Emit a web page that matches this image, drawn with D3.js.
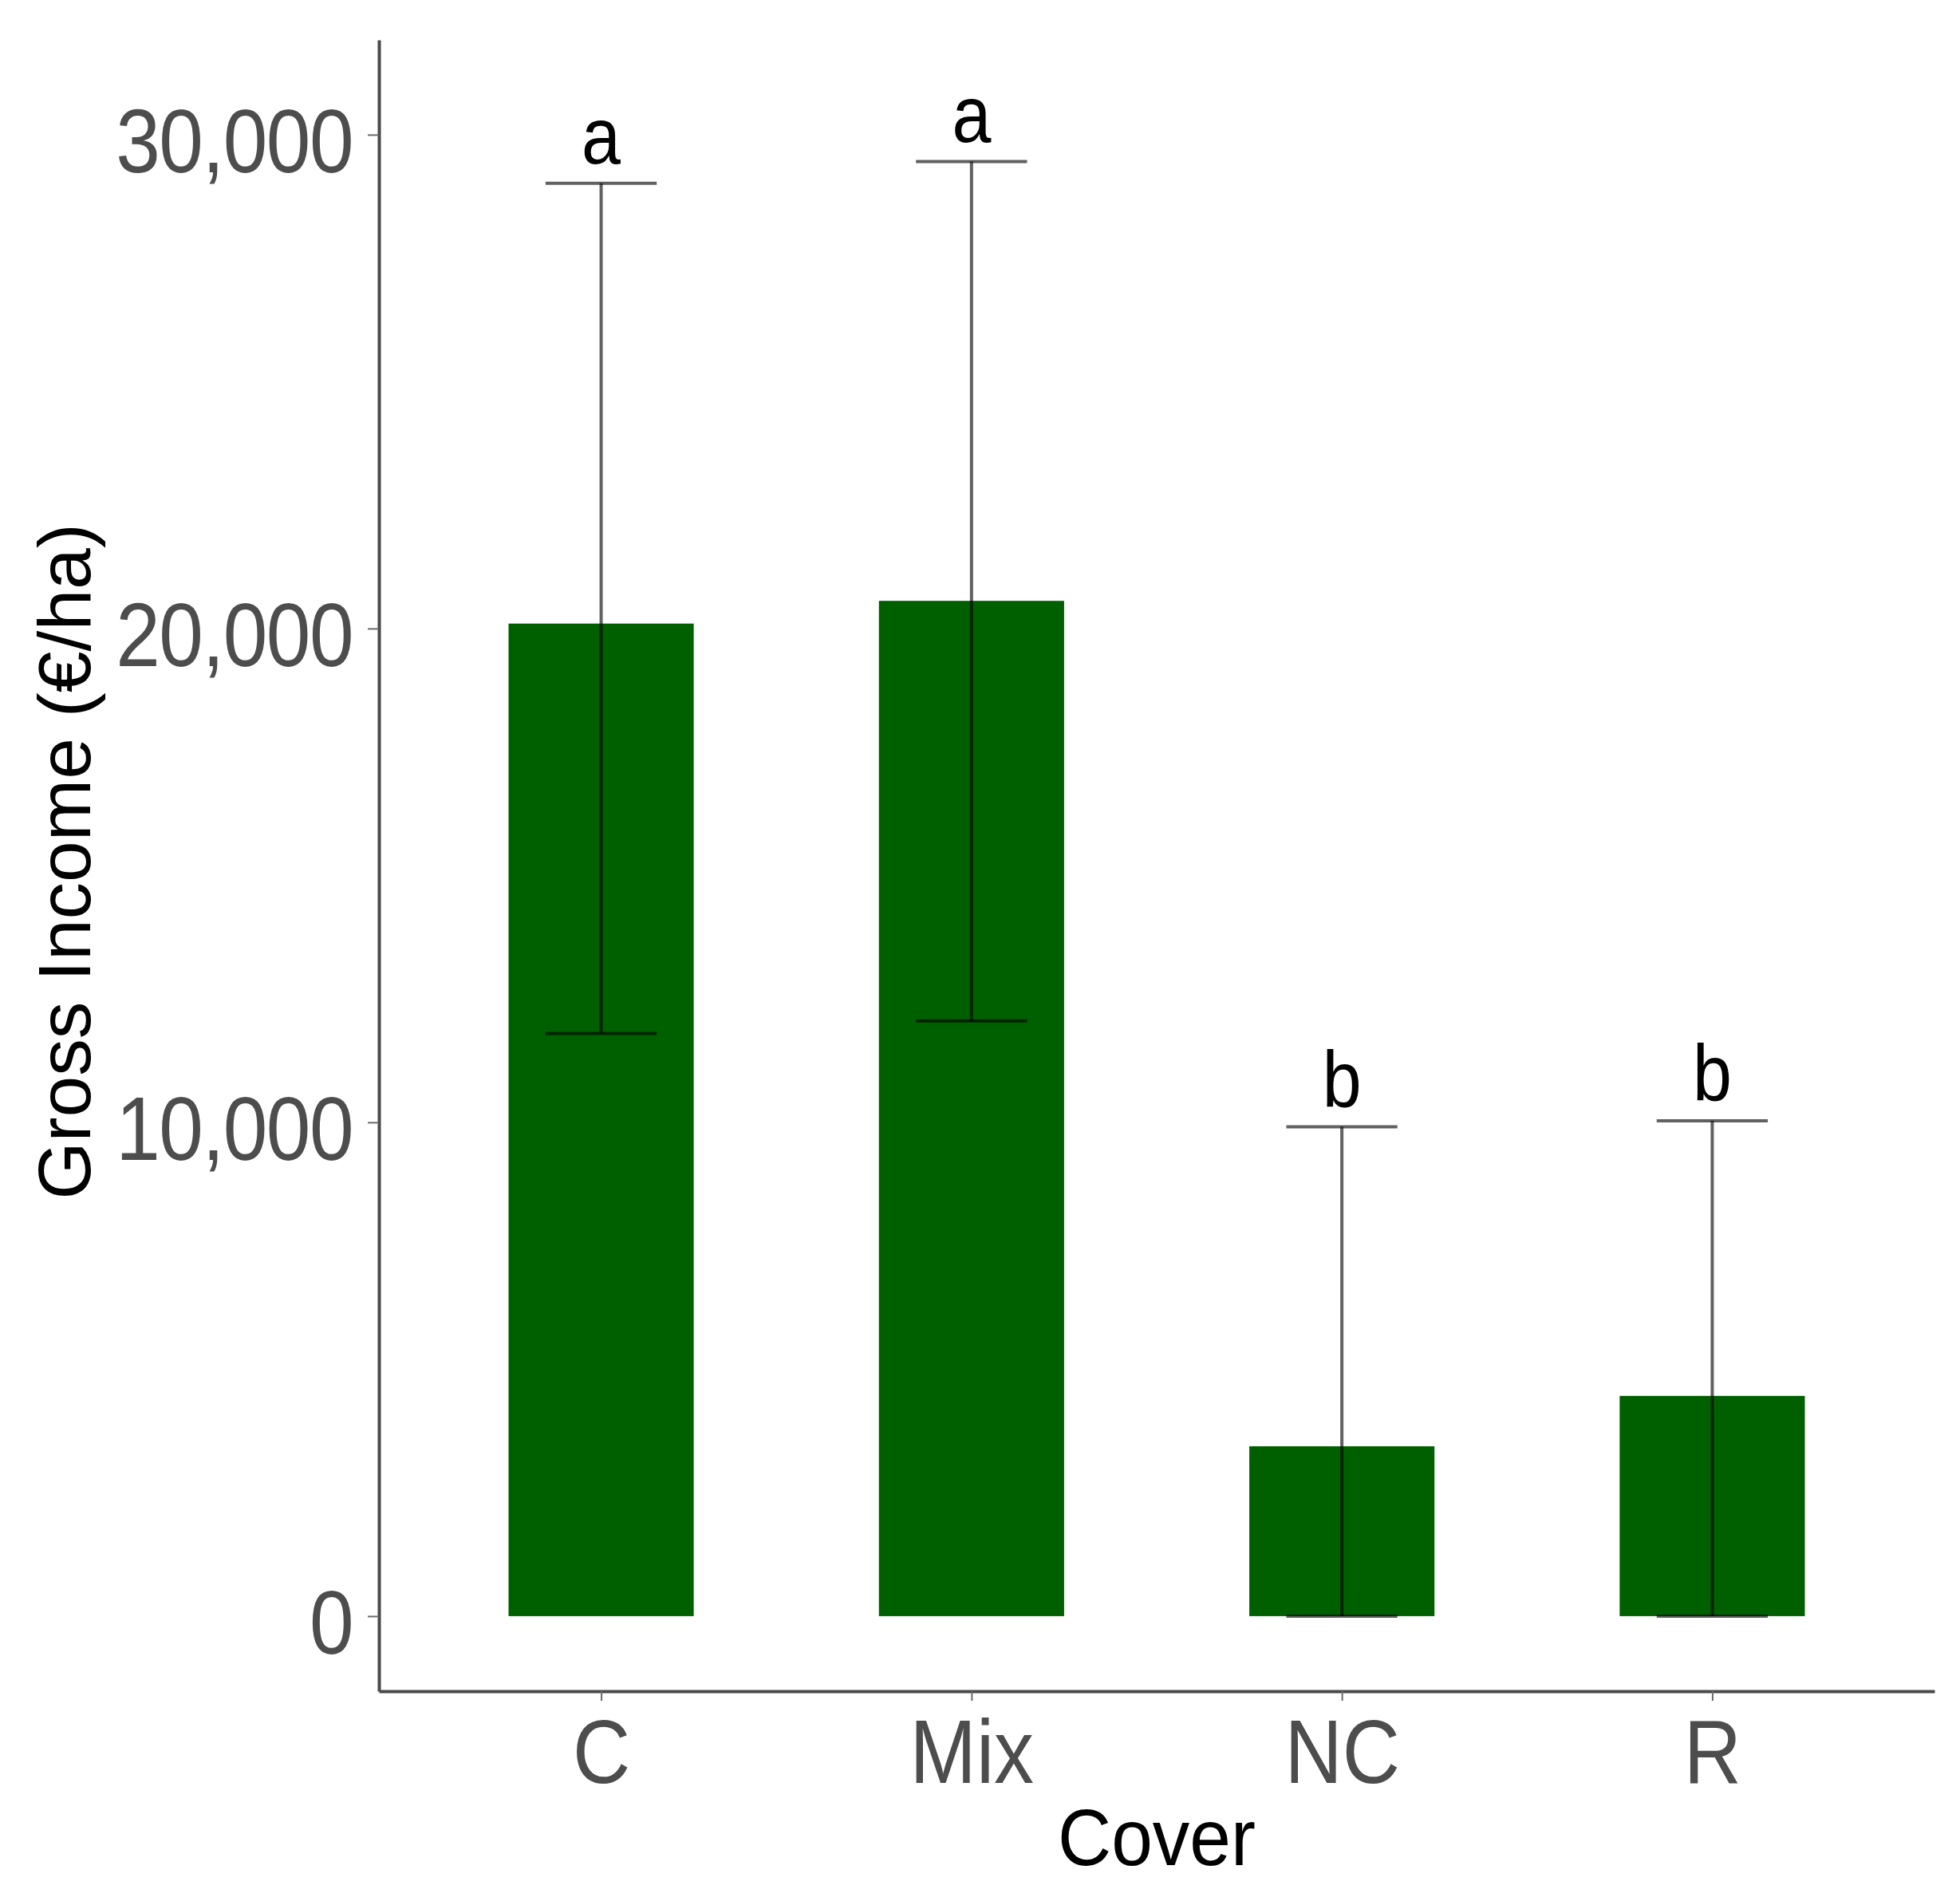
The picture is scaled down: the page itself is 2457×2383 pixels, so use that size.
<!DOCTYPE html>
<html>
<head>
<meta charset="utf-8">
<script src="https://cdn.jsdelivr.net/npm/d3@7"></script>
<style>
  html, body { margin: 0; padding: 0; background: #ffffff; }
  svg { display: block; }
  text { font-family: "Liberation Sans", Arial, Helvetica, sans-serif; }
</style>
</head>
<body>
<div id="chart"></div>
<script>
// ---- data ----
const categories = ["C", "Mix", "NC", "R"];
const means = [20100, 20560, 3440, 4460];
const upperValues = [29015, 29456, 9908, 10032];
const lowerValues = [11800, 12052, 0, 0];
const groupLetters = ["a", "a", "b", "b"];
const yTickValues = [0, 10000, 20000, 30000];
const xTitle = "Cover";
const yTitle = "Gross Income (€/ha)";

// ---- layout ----
const W = 2457, H = 2383;
const plotLeft = 475, plotRight = 2425, plotTop = 50, plotBottom = 2120;
const stretch = 1.14;

const svg = d3.select("#chart").append("svg")
  .attr("width", W).attr("height", H)
  .attr("viewBox", `0 0 ${W} ${H}`);

svg.append("rect").attr("width", W).attr("height", H).attr("fill", "#ffffff");

const x = d3.scalePoint().domain(categories).range([plotLeft, plotRight]).padding(0.6);
const y = d3.scaleLinear().domain([-1520, 31920]).range([plotBottom, plotTop]);
const step = x.step();
const barW = step * 0.5;
const capW = step * 0.3;

const rows = categories.map((c, i) => ({
  cat: c, mean: means[i], up: upperValues[i], lo: lowerValues[i], letter: groupLetters[i]
}));

// bars
svg.append("g").selectAll("rect").data(rows).join("rect")
  .attr("x", d => x(d.cat) - barW / 2)
  .attr("width", barW)
  .attr("y", d => y(d.mean))
  .attr("height", d => y(0) - y(d.mean))
  .attr("fill", "#006000");

// error bars
const eb = svg.append("g")
  .attr("stroke", "#000000")
  .attr("stroke-opacity", 0.62)
  .attr("stroke-width", 4)
  .attr("fill", "none");
eb.selectAll("line.stem").data(rows).join("line").attr("class", "stem")
  .attr("x1", d => x(d.cat)).attr("x2", d => x(d.cat))
  .attr("y1", d => y(d.lo)).attr("y2", d => y(d.up));
eb.selectAll("line.capU").data(rows).join("line").attr("class", "capU")
  .attr("x1", d => x(d.cat) - capW / 2).attr("x2", d => x(d.cat) + capW / 2)
  .attr("y1", d => y(d.up)).attr("y2", d => y(d.up));
eb.selectAll("line.capL").data(rows).join("line").attr("class", "capL")
  .attr("x1", d => x(d.cat) - capW / 2).attr("x2", d => x(d.cat) + capW / 2)
  .attr("y1", d => y(d.lo)).attr("y2", d => y(d.lo));

// letters
svg.append("g").selectAll("text").data(rows).join("text")
  .attr("transform", d => `translate(${x(d.cat)},${y(d.up) - 25}) scale(1,${stretch})`)
  .attr("text-anchor", "middle")
  .attr("font-size", 88)
  .attr("fill", "#000000")
  .text(d => d.letter);

// y axis
const yAxis = svg.append("g")
  .attr("transform", `translate(${plotLeft},0)`)
  .call(d3.axisLeft(y).tickValues(yTickValues).tickFormat(d3.format(","))
    .tickSize(14).tickSizeOuter(0));
yAxis.select(".domain").attr("stroke", "#4a4a4a").attr("stroke-width", 4);
yAxis.selectAll(".tick line").attr("stroke", "#6a6a6a").attr("stroke-width", 2);
yAxis.selectAll(".tick text")
  .attr("x", null).attr("y", null).attr("dy", null)
  .attr("transform", `translate(-33,47) scale(1,${stretch})`)
  .attr("text-anchor", "end")
  .attr("font-size", 100)
  .attr("letter-spacing", -1.5)
  .attr("font-family", "'Liberation Sans', Arial, sans-serif")
  .attr("fill", "#4d4d4d");

// x axis
const xAxis = svg.append("g")
  .attr("transform", `translate(0,${plotBottom})`)
  .call(d3.axisBottom(x).tickSize(12).tickSizeOuter(0));
xAxis.select(".domain").attr("stroke", "#4a4a4a").attr("stroke-width", 4);
xAxis.selectAll(".tick line").attr("stroke", "#6a6a6a").attr("stroke-width", 2);
xAxis.selectAll(".tick text")
  .attr("x", null).attr("y", null).attr("dy", null)
  .attr("transform", `translate(0,115) scale(1,${stretch})`)
  .attr("text-anchor", "middle")
  .attr("font-size", 100)
  .attr("font-family", "'Liberation Sans', Arial, sans-serif")
  .attr("fill", "#4d4d4d");

// axis titles
svg.append("text")
  .attr("transform", `translate(${(plotLeft + plotRight) / 2},2338) scale(1,1.08)`)
  .attr("text-anchor", "middle")
  .attr("font-size", 93)
  .attr("fill", "#000000")
  .text(xTitle);

svg.append("text")
  .attr("transform", `translate(113,${(plotTop + plotBottom) / 2 - 5}) rotate(-90)`)
  .attr("text-anchor", "middle")
  .attr("font-size", 93)
  .attr("fill", "#000000")
  .text(yTitle);
</script>
</body>
</html>
